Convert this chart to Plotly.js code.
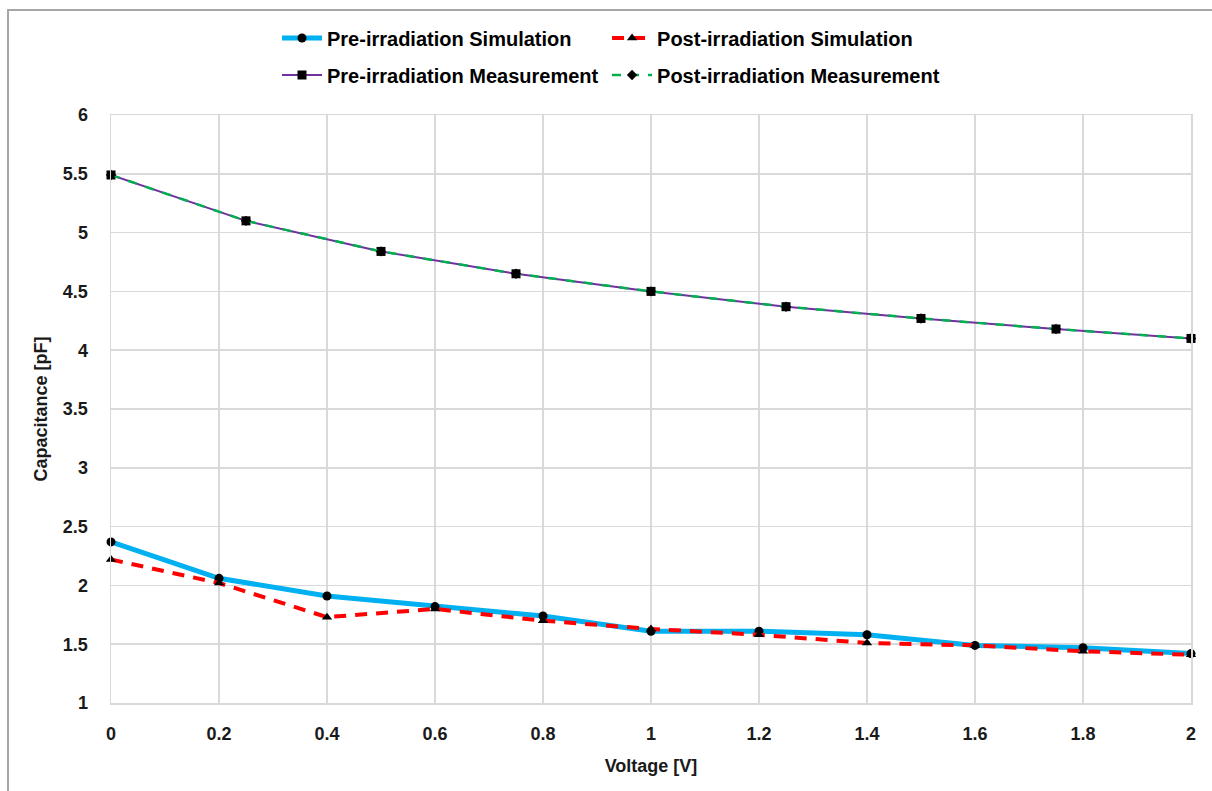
<!DOCTYPE html>
<html>
<head>
<meta charset="utf-8">
<script src="https://cdn.plot.ly/plotly-3.0.1.min.js"></script>
<style>
  html, body { margin: 0; padding: 0; background: #fff; }
  #frame { position: absolute; left: 7px; top: 9px; width: 1300px; height: 900px;
           border-left: 2px solid #a6a6a6; border-top: 2px solid #a6a6a6; pointer-events: none; }
  #chart { position: absolute; left: 0; top: 0; width: 1212px; height: 791px; }
</style>
</head>
<body>
<div id="chart"></div>
<div id="frame"></div>
<script>
const simVoltage = [0, 0.2, 0.4, 0.6, 0.8, 1.0, 1.2, 1.4, 1.6, 1.8, 2.0];
const preSim  = [2.37, 2.06, 1.91, 1.82, 1.74, 1.61, 1.61, 1.58, 1.49, 1.47, 1.42];
const postSim = [2.22, 2.02, 1.73, 1.80, 1.70, 1.63, 1.58, 1.51, 1.49, 1.44, 1.41];

const measVoltage = [0, 0.25, 0.5, 0.75, 1.0, 1.25, 1.5, 1.75, 2.0];
const preMeas  = [5.49, 5.10, 4.84, 4.65, 4.50, 4.37, 4.27, 4.18, 4.10];
const postMeas = [5.49, 5.10, 4.84, 4.65, 4.50, 4.37, 4.27, 4.18, 4.10];

const names = ['Pre-irradiation Simulation', 'Post-irradiation Simulation',
               'Pre-irradiation Measurement', 'Post-irradiation Measurement'];

const data = [
  { x: simVoltage, y: preSim, name: names[0], mode: 'lines+markers', legend: 'legend',
    line: { color: '#00B0F0', width: 5 },
    marker: { symbol: 'circle', color: '#000', size: 9 }, cliponaxis: false },
  { x: simVoltage, y: postSim, name: names[1], mode: 'lines+markers', legend: 'legend2',
    line: { color: '#FF0000', width: 4, dash: '12px,9px' },
    marker: { symbol: 'triangle-up', color: '#000', size: 9 }, cliponaxis: false },
  { x: measVoltage, y: preMeas, name: names[2], mode: 'lines+markers', legend: 'legend3',
    line: { color: '#7030A0', width: 2 },
    marker: { symbol: 'square', color: '#000', size: 9 }, cliponaxis: false },
  { x: measVoltage, y: postMeas, name: names[3], mode: 'lines+markers', legend: 'legend4',
    line: { color: '#00B050', width: 2.5, dash: 'dash' },
    marker: { symbol: 'diamond', color: '#000', size: 8 }, cliponaxis: false }
];

const tickFont = { family: 'Liberation Sans, Arial, sans-serif', size: 18, color: '#1a1a1a', weight: 'bold' };
const titleFont = { family: 'Liberation Sans, Arial, sans-serif', size: 18, color: '#1a1a1a', weight: 'bold' };
const legFont = { family: 'Liberation Sans, Arial, sans-serif', size: 20, color: '#000', weight: 'bold' };

function leg(x, y) {
  return { x: x, xanchor: 'left', y: y, yanchor: 'middle', font: legFont,
           bgcolor: 'rgba(0,0,0,0)', itemwidth: 40 };
}

const layout = {
  width: 1212, height: 791,
  paper_bgcolor: 'rgba(0,0,0,0)', plot_bgcolor: '#fff',
  margin: { l: 111, r: 21, t: 115, b: 88, autoexpand: false },
  showlegend: true,
  legend:  leg(0.1537, 1.131),
  legend2: leg(0.4593, 1.131),
  legend3: leg(0.1537, 1.068),
  legend4: leg(0.4593, 1.068),
  xaxis: {
    range: [0, 2], dtick: 0.2, tick0: 0,
    showgrid: true, gridcolor: '#d9d9d9', gridwidth: 1.5,
    showline: true, linecolor: '#d9d9d9', linewidth: 1.5, mirror: true,
    zeroline: false, ticks: '', ticklabelstandoff: 14,
    tickfont: tickFont,
    title: { text: 'Voltage [V]', font: titleFont, standoff: 16 }
  },
  yaxis: {
    range: [1, 6], dtick: 0.5, tick0: 1,
    showgrid: true, gridcolor: '#d9d9d9', gridwidth: 1.5,
    showline: true, linecolor: '#d9d9d9', linewidth: 1.5, mirror: true,
    zeroline: false, ticks: '', ticklabelstandoff: 18,
    tickfont: tickFont,
    title: { text: 'Capacitance [pF]', font: titleFont, standoff: 10 }
  }
};

Plotly.newPlot('chart', data, layout, { displayModeBar: false, staticPlot: true });
</script>
</body>
</html>
